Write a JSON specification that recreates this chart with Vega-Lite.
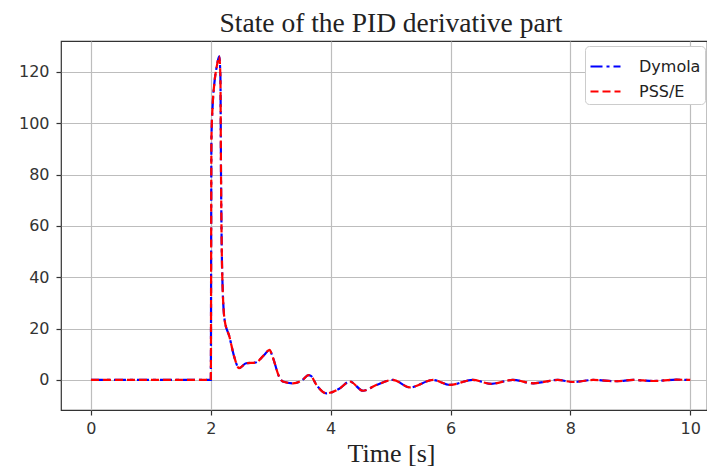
{
  "$schema": "https://vega.github.io/schema/vega-lite/v6.json",
  "width": 646,
  "height": 369,
  "autosize": {"type": "none"},
  "padding": {"left": 61, "top": 41, "right": 0, "bottom": 60},
  "background": "white",
  "title": {
    "text": "State of the PID derivative part",
    "font": "Liberation Serif",
    "fontSize": 27.5,
    "fontWeight": "normal",
    "color": "#222222",
    "anchor": "middle",
    "dx": 7,
    "offset": 4
  },
  "config": {
    "view": {"stroke": "#333333", "strokeWidth": 1.2},
    "axis": {
      "labelFont": "DejaVu Sans",
      "labelFontSize": 16,
      "labelColor": "#333333",
      "tickColor": "#333333",
      "tickSize": 5,
      "tickWidth": 1.2,
      "domain": false,
      "gridColor": "#bdbdbd",
      "gridWidth": 1.2
    }
  },
  "data": {
    "values": [
      {"t": 0, "v": 0, "model": "Dymola"},
      {"t": 2.0, "v": 0, "model": "Dymola"},
      {"t": 2.01, "v": 93.6, "model": "Dymola"},
      {"t": 2.03, "v": 106.6, "model": "Dymola"},
      {"t": 2.06, "v": 115.7, "model": "Dymola"},
      {"t": 2.10, "v": 122.2, "model": "Dymola"},
      {"t": 2.14, "v": 126.0, "model": "Dymola"},
      {"t": 2.16, "v": 118.3, "model": "Dymola"},
      {"t": 2.17, "v": 80.6, "model": "Dymola"},
      {"t": 2.19, "v": 41.6, "model": "Dymola"},
      {"t": 2.23, "v": 23.4, "model": "Dymola"},
      {"t": 2.31, "v": 16.9, "model": "Dymola"},
      {"t": 2.39, "v": 9.1, "model": "Dymola"},
      {"t": 2.47, "v": 4.6, "model": "Dymola"},
      {"t": 2.59, "v": 6.5, "model": "Dymola"},
      {"t": 2.75, "v": 6.8, "model": "Dymola"},
      {"t": 2.89, "v": 9.7, "model": "Dymola"},
      {"t": 2.98, "v": 11.7, "model": "Dymola"},
      {"t": 3.03, "v": 9.1, "model": "Dymola"},
      {"t": 3.14, "v": 1.3, "model": "Dymola"},
      {"t": 3.2, "v": -0.6, "model": "Dymola"},
      {"t": 3.37, "v": -1.3, "model": "Dymola"},
      {"t": 3.53, "v": 0, "model": "Dymola"},
      {"t": 3.63, "v": 1.9, "model": "Dymola"},
      {"t": 3.67, "v": 1.6, "model": "Dymola"},
      {"t": 3.76, "v": -1.8, "model": "Dymola"},
      {"t": 3.93, "v": -5.2, "model": "Dymola"},
      {"t": 4.15, "v": -3.3, "model": "Dymola"},
      {"t": 4.32, "v": -0.6, "model": "Dymola"},
      {"t": 4.54, "v": -4.2, "model": "Dymola"},
      {"t": 4.76, "v": -2.0, "model": "Dymola"},
      {"t": 5.04, "v": 0, "model": "Dymola"},
      {"t": 5.32, "v": -2.9, "model": "Dymola"},
      {"t": 5.71, "v": 0, "model": "Dymola"},
      {"t": 5.99, "v": -1.9, "model": "Dymola"},
      {"t": 6.37, "v": 0, "model": "Dymola"},
      {"t": 6.68, "v": -1.5, "model": "Dymola"},
      {"t": 7.04, "v": 0, "model": "Dymola"},
      {"t": 7.38, "v": -1.3, "model": "Dymola"},
      {"t": 7.79, "v": 0, "model": "Dymola"},
      {"t": 8.04, "v": -0.8, "model": "Dymola"},
      {"t": 8.38, "v": 0, "model": "Dymola"},
      {"t": 8.77, "v": -0.5, "model": "Dymola"},
      {"t": 9.05, "v": 0, "model": "Dymola"},
      {"t": 9.38, "v": -0.4, "model": "Dymola"},
      {"t": 9.77, "v": 0.1, "model": "Dymola"},
      {"t": 10.0, "v": 0, "model": "Dymola"},
      {"t": 0, "v": 0, "model": "PSS/E"},
      {"t": 2.0, "v": 0, "model": "PSS/E"},
      {"t": 2.01, "v": 93.6, "model": "PSS/E"},
      {"t": 2.03, "v": 106.6, "model": "PSS/E"},
      {"t": 2.06, "v": 115.7, "model": "PSS/E"},
      {"t": 2.10, "v": 122.2, "model": "PSS/E"},
      {"t": 2.14, "v": 126.0, "model": "PSS/E"},
      {"t": 2.16, "v": 118.3, "model": "PSS/E"},
      {"t": 2.17, "v": 80.6, "model": "PSS/E"},
      {"t": 2.19, "v": 41.6, "model": "PSS/E"},
      {"t": 2.23, "v": 23.4, "model": "PSS/E"},
      {"t": 2.31, "v": 16.9, "model": "PSS/E"},
      {"t": 2.39, "v": 9.1, "model": "PSS/E"},
      {"t": 2.47, "v": 4.6, "model": "PSS/E"},
      {"t": 2.59, "v": 6.5, "model": "PSS/E"},
      {"t": 2.75, "v": 6.8, "model": "PSS/E"},
      {"t": 2.89, "v": 9.7, "model": "PSS/E"},
      {"t": 2.98, "v": 11.7, "model": "PSS/E"},
      {"t": 3.03, "v": 9.1, "model": "PSS/E"},
      {"t": 3.14, "v": 1.3, "model": "PSS/E"},
      {"t": 3.2, "v": -0.6, "model": "PSS/E"},
      {"t": 3.37, "v": -1.3, "model": "PSS/E"},
      {"t": 3.53, "v": 0, "model": "PSS/E"},
      {"t": 3.63, "v": 1.9, "model": "PSS/E"},
      {"t": 3.67, "v": 1.6, "model": "PSS/E"},
      {"t": 3.76, "v": -1.8, "model": "PSS/E"},
      {"t": 3.93, "v": -5.2, "model": "PSS/E"},
      {"t": 4.15, "v": -3.3, "model": "PSS/E"},
      {"t": 4.32, "v": -0.6, "model": "PSS/E"},
      {"t": 4.54, "v": -4.2, "model": "PSS/E"},
      {"t": 4.76, "v": -2.0, "model": "PSS/E"},
      {"t": 5.04, "v": 0, "model": "PSS/E"},
      {"t": 5.32, "v": -2.9, "model": "PSS/E"},
      {"t": 5.71, "v": 0, "model": "PSS/E"},
      {"t": 5.99, "v": -1.9, "model": "PSS/E"},
      {"t": 6.37, "v": 0, "model": "PSS/E"},
      {"t": 6.68, "v": -1.5, "model": "PSS/E"},
      {"t": 7.04, "v": 0, "model": "PSS/E"},
      {"t": 7.38, "v": -1.3, "model": "PSS/E"},
      {"t": 7.79, "v": 0, "model": "PSS/E"},
      {"t": 8.04, "v": -0.8, "model": "PSS/E"},
      {"t": 8.38, "v": 0, "model": "PSS/E"},
      {"t": 8.77, "v": -0.5, "model": "PSS/E"},
      {"t": 9.05, "v": 0, "model": "PSS/E"},
      {"t": 9.38, "v": -0.4, "model": "PSS/E"},
      {"t": 9.77, "v": 0.1, "model": "PSS/E"},
      {"t": 10.0, "v": 0, "model": "PSS/E"}
    ]
  },
  "mark": {"type": "line", "strokeWidth": 2.2, "interpolate": "monotone"},
  "encoding": {
    "x": {
      "field": "t",
      "type": "quantitative",
      "scale": {"domain": [-0.5, 10.28], "nice": false, "zero": false},
      "axis": {
        "values": [0, 2, 4, 6, 8, 10],
        "labelPadding": 5,
        "title": "Time [s]",
        "titleFont": "Liberation Serif",
        "titleFontSize": 26,
        "titleFontWeight": "normal",
        "titleColor": "#222222",
        "titleX": 330,
        "titleAlign": "center",
        "titlePadding": 4
      }
    },
    "y": {
      "field": "v",
      "type": "quantitative",
      "scale": {"domain": [-11.7, 132], "nice": false, "zero": false},
      "axis": {
        "values": [0, 20, 40, 60, 80, 100, 120],
        "labelPadding": 7,
        "title": null
      }
    },
    "color": {
      "field": "model",
      "type": "nominal",
      "scale": {"domain": ["Dymola", "PSS/E"], "range": ["#0000ff", "#ff0000"]},
      "legend": {
        "title": null,
        "orient": "none",
        "legendX": 524,
        "legendY": 5,
        "symbolType": "stroke",
        "symbolSize": 900,
        "symbolStrokeWidth": 2.2,
        "labelFont": "DejaVu Sans",
        "labelFontSize": 16,
        "labelColor": "#222222",
        "labelOffset": 17,
        "rowPadding": -2,
        "padding": 4,
        "fillColor": "white",
        "strokeColor": "#cccccc",
        "cornerRadius": 4
      }
    },
    "strokeDash": {
      "field": "model",
      "type": "nominal",
      "scale": {"domain": ["Dymola", "PSS/E"], "range": [[12, 4, 3, 4], [8, 4]]},
      "legend": null
    }
  }
}
